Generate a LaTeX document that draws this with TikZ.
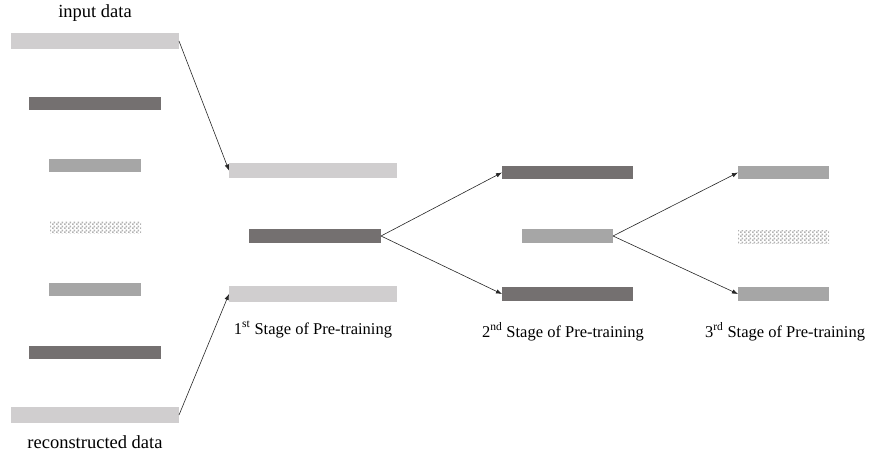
\documentclass[tikz,border=0pt]{standalone}
\usepackage{fontspec}
\setmainfont{Liberation Serif}
\usepackage{xcolor}
\usepackage{tikz}
\usetikzlibrary{arrows.meta,positioning,patterns.meta}
\definecolor{barlight}{HTML}{D0CECF}
\definecolor{bardark}{HTML}{747070}
\definecolor{barmid}{HTML}{A6A6A6}
\tikzdeclarepattern{
  name=finechk, type=uncolored,
  bounding box={(0pt,0pt) and (4pt,4pt)},
  tile size={(4pt,4pt)},
  code={\fill (0pt,0pt) rectangle (2pt,2pt);
        \fill (2pt,2pt) rectangle (4pt,4pt);}
}

\begin{document}
\begin{tikzpicture}[
  x=1pt, y=-1pt,
  bar/.style={inner sep=0pt, outer sep=0pt, minimum height=13pt},
  lightbar/.style={bar, fill=barlight, minimum height=16pt},
  darkbar/.style={bar, fill=bardark},
  midbar/.style={bar, fill=barmid},
  chkbar/.style={bar, fill=black!6, pattern=finechk, pattern color=black!30, minimum height=12pt},
  lbl/.style={anchor=base, inner sep=0pt, font=\rmfamily\fontsize{18.5}{22}\selectfont},
  stagelbl/.style={anchor=base, inner sep=0pt, font=\rmfamily\fontsize{16.5}{20}\selectfont},
  arr/.style={-{Latex[length=6pt,width=4.5pt]}, line width=0.6pt, black!85}
]
\useasboundingbox (0,0) rectangle (870,457);
% input / reconstructed column
\node[lbl] (intxt) at (95,17.5) {input data};
\node[lightbar, minimum width=168pt] (in) at (95,41) {};
\node[darkbar, minimum width=132pt] (a2) at (95,103.5) {};
\node[midbar, minimum width=92pt] (a3) at (95,165.5) {};
\node[chkbar, minimum width=91pt] (a4) at (95.5,228) {};
\node[midbar, minimum width=92pt] (a5) at (95,289.5) {};
\node[darkbar, minimum width=132pt] (a6) at (95,352.5) {};
\node[lightbar, minimum width=168pt] (rec) at (95,415) {};
\node[lbl] (rectxt) at (95,448) {reconstructed data};
% 1st stage
\node[lightbar, minimum width=168pt, minimum height=15pt] (s1top) at (313,170.5) {};
\node[darkbar, minimum width=132pt, minimum height=14pt] (s1mid) at (315,236) {};
\node[lightbar, minimum width=168pt] (s1bot) at (313,294) {};
\node[stagelbl] (s1txt) at (313,334) {1\textsuperscript{st} Stage of Pre-training};
% 2nd stage
\node[darkbar, minimum width=131pt] (s2top) at (567.5,172.5) {};
\node[midbar, minimum width=91pt, minimum height=14pt] (s2mid) at (567.5,236) {};
\node[darkbar, minimum width=131pt, minimum height=14pt] (s2bot) at (567.5,294) {};
\node[stagelbl] (s2txt) at (563,337) {2\textsuperscript{nd} Stage of Pre-training};
% 3rd stage
\node[midbar, minimum width=91pt] (s3top) at (783.5,172.5) {};
\node[chkbar, minimum width=91pt] (s3mid) at (783.5,237) {};
\node[midbar, minimum width=91pt, minimum height=14pt] (s3bot) at (783.5,294) {};
\node[stagelbl] (s3txt) at (785,337) {3\textsuperscript{rd} Stage of Pre-training};
% connectors
\draw[arr] (in.east) -- (s1top.west);
\draw[arr] (rec.east) -- (s1bot.west);
\draw[arr] (s1mid.east) -- (s2top.west);
\draw[arr] (s1mid.east) -- (s2bot.west);
\draw[arr] (s2mid.east) -- (s3top.west);
\draw[arr] (s2mid.east) -- (s3bot.west);
\end{tikzpicture}
\end{document}
